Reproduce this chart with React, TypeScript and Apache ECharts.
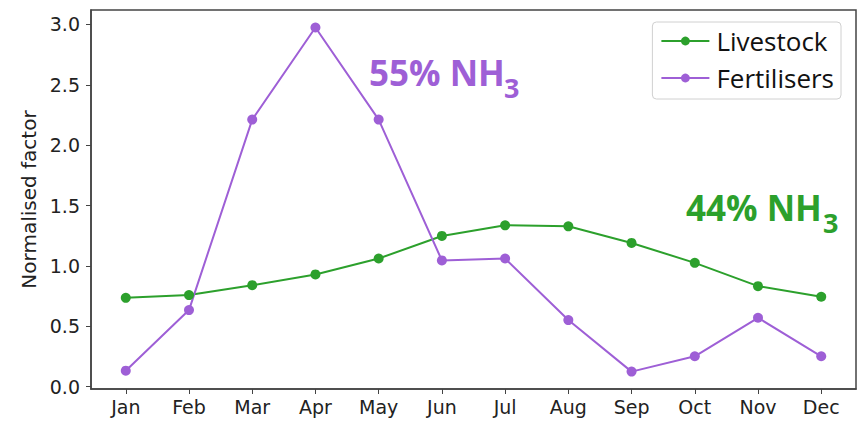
import React, { useEffect, useRef } from "react";
import * as echarts from "echarts";

const months = ["Jan", "Feb", "Mar", "Apr", "May", "Jun", "Jul", "Aug", "Sep", "Oct", "Nov", "Dec"];
const livestock = [0.735, 0.758, 0.84, 0.929, 1.061, 1.248, 1.336, 1.328, 1.19, 1.025, 0.832, 0.744];
const fertilisers = [0.132, 0.634, 2.212, 2.975, 2.212, 1.045, 1.061, 0.551, 0.124, 0.251, 0.57, 0.251];
const yTicks = [0, 0.5, 1, 1.5, 2, 2.5, 3];
const monthIdx = months.map((_, i) => i);

const GREEN = "#2ca02c";
const PURPLE = "#9e5fd6";

export default function App() {
  const ref = useRef<HTMLDivElement>(null);
  useEffect(() => {
    if (!ref.current) return;
    const chart = echarts.init(ref.current, undefined, { renderer: "svg" });
    const tickFont = { fontFamily: "DejaVu Sans", fontSize: 19, color: "#222" };
    chart.setOption({
      animation: false,
      backgroundColor: "#fff",
      grid: { left: 91, top: 10, right: 2, bottom: 32, show: true, borderColor: "#444", borderWidth: 1.5 },
      xAxis: {
        type: "value",
        min: -0.55,
        max: 11.55,
        splitLine: { show: false },
        axisLine: { show: true, onZero: false, lineStyle: { color: "#444", width: 1.5 } },
        axisTick: { show: true, length: 5, lineStyle: { color: "#444" }, customValues: monthIdx },
        axisLabel: {
          ...tickFont,
          margin: 8,
          customValues: monthIdx,
          formatter: (v: number) => months[Math.round(v)] ?? "",
        },
      },
      yAxis: {
        type: "value",
        min: -0.02,
        max: 3.12,
        splitLine: { show: false },
        axisLine: { show: true, onZero: false, lineStyle: { color: "#444", width: 1.5 } },
        axisTick: { show: true, length: 5, lineStyle: { color: "#444" }, customValues: yTicks },
        axisLabel: {
          ...tickFont,
          margin: 11,
          customValues: yTicks,
          formatter: (v: number) => v.toFixed(1),
        },
        name: "Normalised factor",
        nameLocation: "middle",
        nameGap: 50,
        nameTextStyle: { fontFamily: "DejaVu Sans", fontSize: 20, color: "#222" },
      },
      legend: {
        orient: "vertical",
        right: 17,
        top: 22,
        backgroundColor: "#fff",
        borderColor: "#d0d0d0",
        borderWidth: 1,
        borderRadius: 4,
        padding: [6, 7, 8, 8],
        itemWidth: 48,
        itemHeight: 11,
        itemGap: 11,
        textStyle: { fontFamily: "Open Sans", fontSize: 26, color: "#111", padding: [0, 0, 0, 2] },
        data: ["Livestock", "Fertilisers"],
      },
      series: [
        {
          name: "Livestock",
          type: "line",
          data: livestock.map((v, i) => [i, v]),
          symbol: "circle",
          symbolSize: 10,
          lineStyle: { color: GREEN, width: 2 },
          itemStyle: { color: GREEN },
        },
        {
          name: "Fertilisers",
          type: "line",
          data: fertilisers.map((v, i) => [i, v]),
          symbol: "circle",
          symbolSize: 10,
          lineStyle: { color: PURPLE, width: 2 },
          itemStyle: { color: PURPLE },
        },
      ],
      graphic: [
        {
          type: "text",
          left: 369,
          top: 55,
          style: { text: "55% NH", fontFamily: "Open Sans", fontWeight: "bold", fontSize: 35, fill: PURPLE },
        },
        {
          type: "text",
          left: 504,
          top: 74,
          style: { text: "3", fontFamily: "Open Sans", fontWeight: "bold", fontSize: 27, fill: PURPLE },
        },
        {
          type: "text",
          left: 686,
          top: 190,
          style: { text: "44% NH", fontFamily: "Open Sans", fontWeight: "bold", fontSize: 35, fill: GREEN },
        },
        {
          type: "text",
          left: 823,
          top: 209,
          style: { text: "3", fontFamily: "Open Sans", fontWeight: "bold", fontSize: 27, fill: GREEN },
        },
      ],
    });
    return () => chart.dispose();
  }, []);
  return <div ref={ref} style={{ width: 858, height: 421, position: "absolute", left: 0, top: 0 }} />;
}
